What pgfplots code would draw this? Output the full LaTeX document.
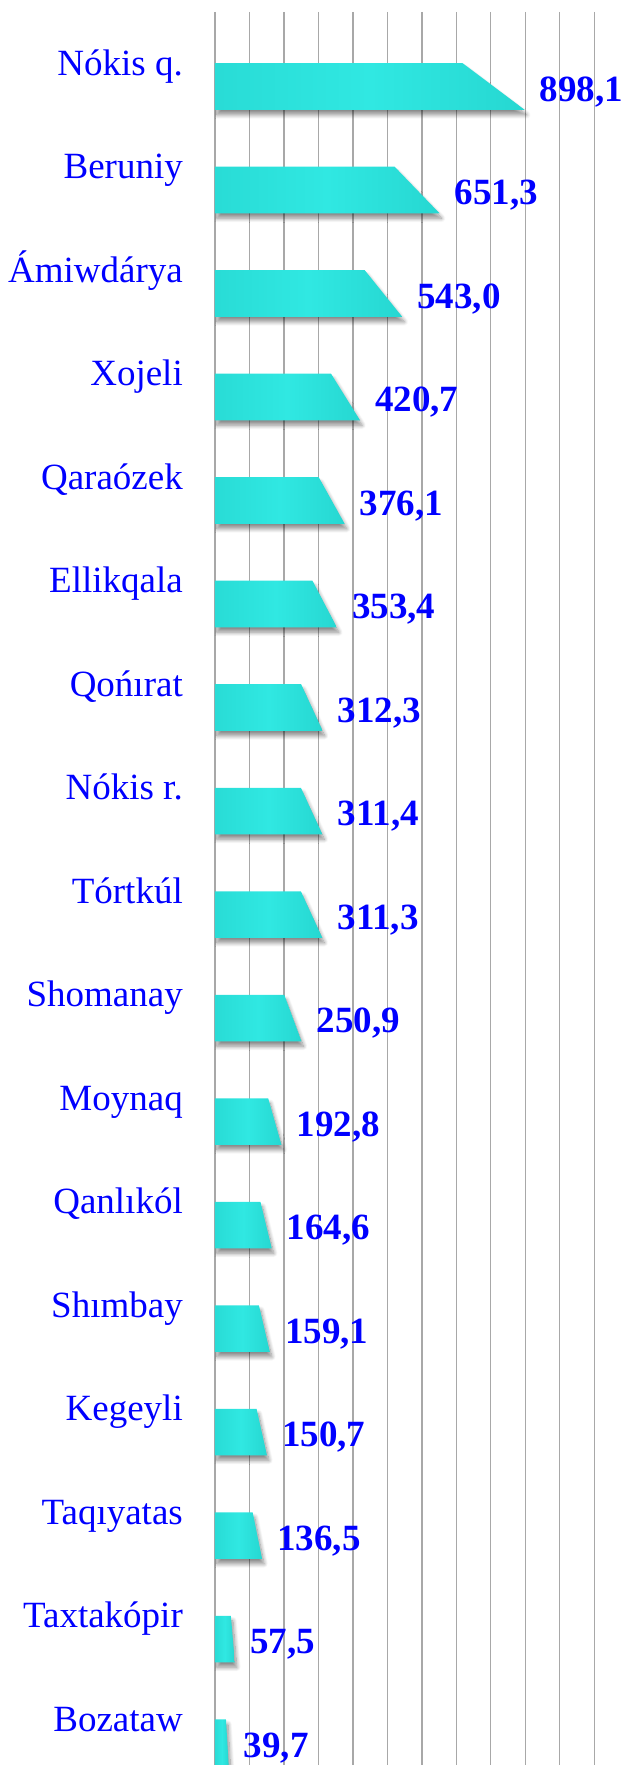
\documentclass[border=0pt]{standalone}
\usepackage{fontspec}
\setmainfont{Liberation Serif}
\usepackage{pgfplots}
\pgfplotsset{compat=1.18}
\usepackage{pgfplotstable}
\usetikzlibrary{shadows.blur}

\definecolor{barmid}{RGB}{48,232,226}
\definecolor{barbase}{RGB}{36,212,206}
\definecolor{barleft}{RGB}{24,158,156}
\definecolor{barright}{RGB}{20,138,138}
\definecolor{gridgray}{RGB}{168,168,168}
\definecolor{txtblue}{RGB}{0,0,255}

\pgfdeclarehorizontalshading{barsh}{100bp}{color(0bp)=(barleft); color(9bp)=(barbase);
  color(50bp)=(barmid); color(80bp)=(barbase); color(100bp)=(barright)}

% pos = row in the chart (1 at top), val = value, lab = printed value
\pgfplotstableread{
pos val   lab
1   898.1 898,1
2   651.3 651,3
3   543.0 543,0
4   420.7 420,7
5   376.1 376,1
6   353.4 353,4
7   312.3 312,3
8   311.4 311,4
9   311.3 311,3
10  250.9 250,9
11  192.8 192,8
12  164.6 164,6
13  159.1 159,1
14  150.7 150,7
15  136.5 136,5
16  57.5  57,5
17  39.7  39,7
}\datatab

\pgfplotsset{
  trap/.style={draw=none, shading=barsh,
    blur shadow={shadow xshift=2pt, shadow yshift=-5pt, shadow blur radius=4pt,
      shadow blur steps=10, shadow opacity=45}},
}

% slanted bar: top edge to 0.8*value, bottom edge to value
\newcommand\tbar[2]{%
  \pgfmathsetmacro\tbxa{0.8*#1}%
  \pgfmathsetmacro\tbya{#2-0.225}%
  \pgfmathsetmacro\tbyb{#2+0.225}%
  \edef\tbcmd{\noexpand\addplot[trap] coordinates {(0,\tbya) (\tbxa,\tbya) (#1,\tbyb) (0,\tbyb)} -- cycle;}%
  \tbcmd}

\begin{document}
\begin{tikzpicture}
\begin{axis}[
    scale only axis,
    width=412pt, height=1753pt,
    xmin=0, xmax=1195,
    ymin=0.28, ymax=17.217,
    y dir=reverse,
    axis line style={draw=none},
    xtick={0,100,...,1100},
    xticklabels={},
    xmajorgrids,
    grid style={gridgray, line width=1.3pt},
    major tick length=0pt,
    ytick={1,...,17},
    yticklabels={Nókis q., Beruniy, Ámiwdárya, Xojeli, Qaraózek, Ellikqala, Qońırat, Nókis r., Tórtkúl, Shomanay, Moynaq, Qanlıkól, Shımbay, Kegeyli, Taqıyatas, Taxtakópir, Bozataw},
    yticklabel style={font=\fontsize{37}{40}\selectfont, text=txtblue, anchor=east,
      inner sep=0pt, text height=27pt, text depth=8pt, xshift=-32pt, yshift=21pt},
]
\pgfplotsinvokeforeach{0,...,16}{%
  \pgfplotstablegetelem{#1}{val}\of\datatab \let\tbv\pgfplotsretval
  \pgfplotstablegetelem{#1}{pos}\of\datatab \let\tbp\pgfplotsretval
  \tbar{\tbv}{\tbp}
}
\addplot[draw=none, mark=none, nodes near coords, point meta=explicit symbolic,
  nodes near coords style={anchor=west, inner sep=0pt, text height=25pt, text depth=6pt,
    xshift=15pt, yshift=-5pt,
    font=\bfseries\fontsize{37}{40}\selectfont, text=txtblue}]
  table[x=val, y=pos, meta=lab] {\datatab};
\end{axis}
\pgfresetboundingbox
\path ([xshift=-215pt]current axis.south west) rectangle ([yshift=12pt]current axis.north east);
\end{tikzpicture}
\end{document}
